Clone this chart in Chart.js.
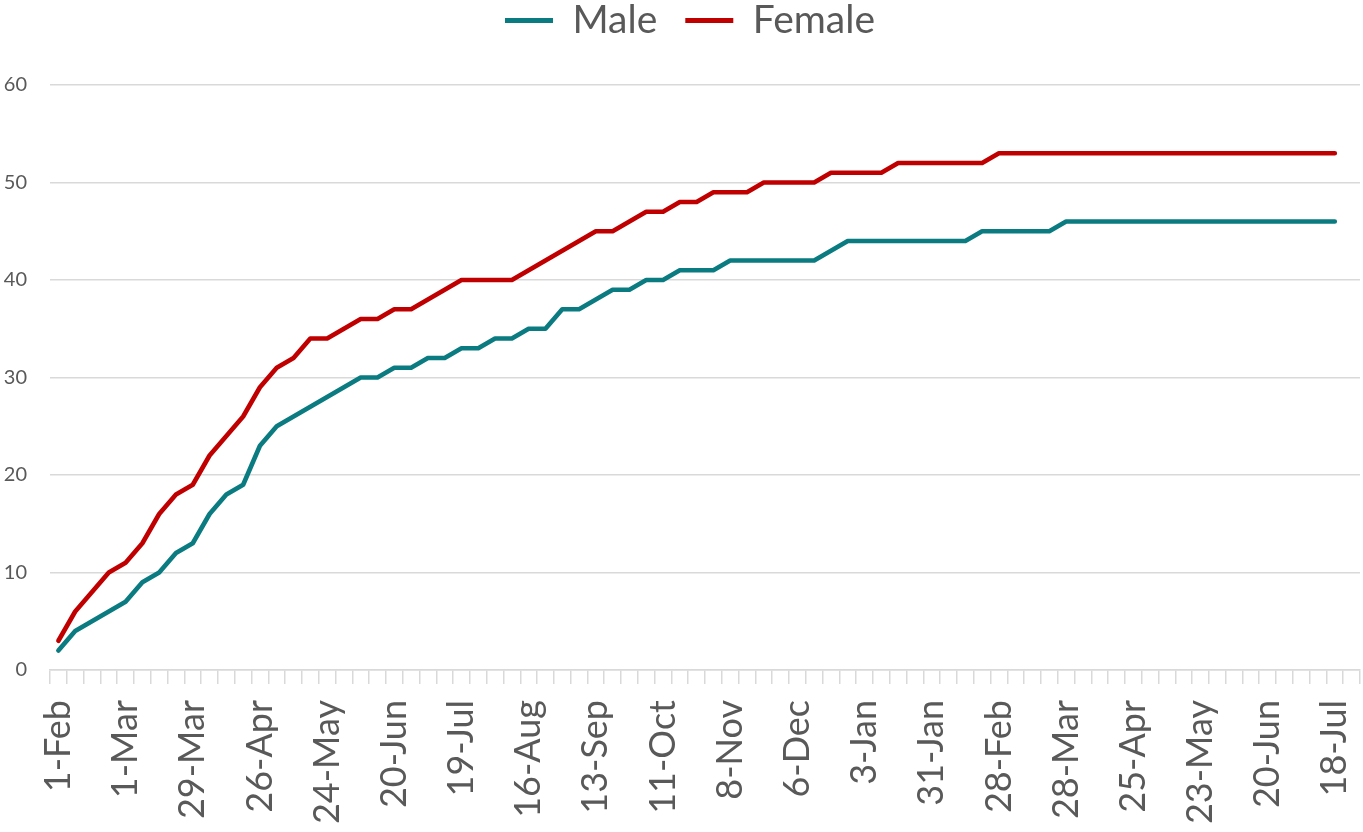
<!DOCTYPE html>
<html>
<head>
<meta charset="utf-8">
<script src="https://cdn.jsdelivr.net/npm/chart.js@4.4.0/dist/chart.umd.min.js"></script>
<style>
  html, body { margin: 0; padding: 0; background: #fff; }
  #wrap { width: 1363px; height: 832px; }
</style>
</head>
<body>
<div id="wrap"><canvas id="chart"></canvas></div>
<script>
// weekly dates, one label shown every 4 weeks
const weeks = [
  '1-Feb', '8-Feb', '15-Feb', '22-Feb', '1-Mar', '8-Mar', '15-Mar', '22-Mar',
  '29-Mar', '5-Apr', '12-Apr', '19-Apr', '26-Apr', '3-May', '10-May', '17-May',
  '24-May', '31-May', '6-Jun', '13-Jun', '20-Jun', '27-Jun', '4-Jul', '12-Jul',
  '19-Jul', '26-Jul', '2-Aug', '9-Aug', '16-Aug', '23-Aug', '30-Aug', '6-Sep',
  '13-Sep', '20-Sep', '27-Sep', '4-Oct', '11-Oct', '18-Oct', '25-Oct', '1-Nov',
  '8-Nov', '15-Nov', '22-Nov', '29-Nov', '6-Dec', '13-Dec', '20-Dec', '27-Dec',
  '3-Jan', '10-Jan', '17-Jan', '24-Jan', '31-Jan', '7-Feb', '14-Feb', '21-Feb',
  '28-Feb', '7-Mar', '14-Mar', '21-Mar', '28-Mar', '4-Apr', '11-Apr', '18-Apr',
  '25-Apr', '2-May', '9-May', '16-May', '23-May', '30-May', '6-Jun', '13-Jun',
  '20-Jun', '27-Jun', '4-Jul', '11-Jul', '18-Jul', '25-Jul'
];

const male = [
  2, 4, 5, 6, 7, 9, 10, 12, 13, 16, 18, 19, 23, 25, 26, 27, 28, 29, 30,
  30, 31, 31, 32, 32, 33, 33, 34, 34, 35, 35, 37, 37, 38, 39, 39, 40, 40, 41, 41,
  41, 42, 42, 42, 42, 42, 42, 43, 44, 44, 44, 44, 44, 44, 44, 44, 45, 45, 45, 45,
  45, 46, 46, 46, 46, 46, 46, 46, 46, 46, 46, 46, 46, 46, 46, 46, 46, 46,
  null
];

const female = [
  3, 6, 8, 10, 11, 13, 16, 18, 19, 22, 24, 26, 29, 31, 32, 34, 34, 35, 36,
  36, 37, 37, 38, 39, 40, 40, 40, 40, 41, 42, 43, 44, 45, 45, 46, 47, 47, 48, 48,
  49, 49, 49, 50, 50, 50, 50, 51, 51, 51, 51, 52, 52, 52, 52, 52, 52, 53, 53, 53,
  53, 53, 53, 53, 53, 53, 53, 53, 53, 53, 53, 53, 53, 53, 53, 53, 53, 53,
  null
];

const yTicks = [0, 10, 20, 30, 40, 50, 60];

const textColor = '#595959';
const gridColor = '#d9d9d9';
const font = 'Lato';

// legend block gets a fixed height so the plot starts lower,
// then is nudged up and a bit right to sit where the original one does
const legendPlace = {
  id: 'legendPlace',
  beforeInit(chart) {
    const fit = chart.legend.fit;
    chart.legend.fit = function () {
      fit.call(this);
      this.height = 85;
    };
  },
  afterLayout(chart) {
    chart.legend.top = -27;
    chart.legend.left = 20;
  }
};

const ctx = document.getElementById('chart').getContext('2d');

new Chart(ctx, {
  type: 'line',
  data: {
    labels: weeks,
    datasets: [
      { label: 'Male',   data: male,   borderColor: '#0a7b80', backgroundColor: '#0a7b80' },
      { label: 'Female', data: female, borderColor: '#c00000', backgroundColor: '#c00000' }
    ]
  },
  plugins: [legendPlace],
  options: {
    responsive: true,
    maintainAspectRatio: false,
    animation: false,
    layout: { padding: { left: 0, right: 3, top: 0, bottom: 0 } },
    elements: {
      line: { borderWidth: 4.6, tension: 0, borderCapStyle: 'round', borderJoinStyle: 'round', fill: false },
      point: { radius: 0, hoverRadius: 0 }
    },
    plugins: {
      tooltip: { enabled: false },
      legend: {
        position: 'top',
        labels: {
          font: { family: font, size: 39 },
          color: textColor,
          boxWidth: 48,
          boxHeight: 5,
          padding: 28,
          generateLabels: chart => chart.data.datasets.map((ds, i) => ({
            text: ds.label,
            fillStyle: ds.borderColor,
            strokeStyle: ds.borderColor,
            lineWidth: 0,
            fontColor: textColor,
            datasetIndex: i
          }))
        }
      }
    },
    scales: {
      x: {
        offset: true,
        afterFit: s => { s.height = 162; s.paddingLeft = 0; s.paddingRight = 0; },
        grid: { offset: true, drawOnChartArea: false, color: gridColor, lineWidth: 1.5, tickLength: 14 },
        border: { color: gridColor, width: 1.5 },
        ticks: {
          autoSkip: false,
          minRotation: 90,
          maxRotation: 90,
          padding: 16,
          color: textColor,
          font: { family: font, size: 36 },
          callback: (v, i) => (i % 4 === 0 && i < 77) ? weeks[i] : ''
        }
      },
      y: {
        min: 0,
        max: 60,
        afterFit: s => { s.width = 50; },
        afterBuildTicks: s => { s.ticks = yTicks.map(v => ({ value: v })); },
        grid: { color: gridColor, lineWidth: 1.5, drawTicks: false },
        border: { display: false },
        ticks: {
          padding: 23,
          color: textColor,
          font: { family: font, size: 20 }
        }
      }
    }
  }
});
</script>
</body>
</html>
